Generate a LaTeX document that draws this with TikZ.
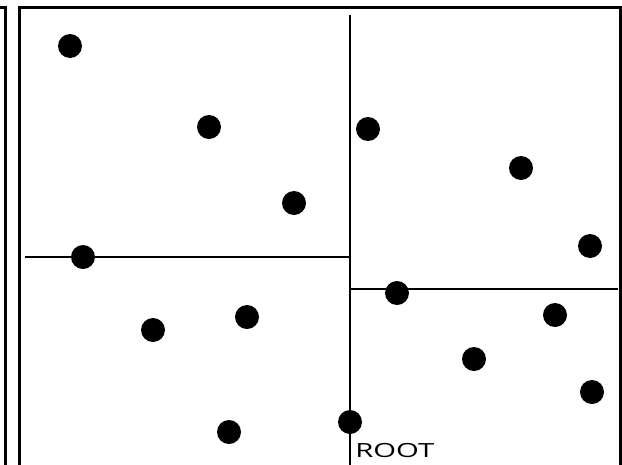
\documentclass[tikz,border=0pt]{standalone}
\usepackage{fontspec}
\setmainfont{Open Sans}
\begin{document}
\begin{tikzpicture}[x=1pt,y=-1pt,
  pt/.style={circle,fill=black,inner sep=0pt,minimum size=24pt},
  frame/.style={line width=3pt},
  split/.style={line width=2.4pt}]
\useasboundingbox (0,0) rectangle (622,464);
% left partial frame
\draw[frame] (-5,7) -- (5,7) -- (5,470);
% main frame
\draw[frame] (19,470) -- (19,7) -- (620,7) -- (620,470);
% split lines
\coordinate (vtop) at (350,15);
\coordinate (vbot) at (350,470);
\coordinate (lh1) at (25,257);
\coordinate (lh2) at (350,257);
\coordinate (rh1) at (350,289);
\coordinate (rh2) at (618,289);
\draw[split] (vtop) -- (vbot);
\draw[split] (lh1) -- (lh2);
\draw[split] (rh1) -- (rh2);
% points
\node[pt] (p1) at (70,46) {};
\node[pt] (p2) at (209,127) {};
\node[pt] (p3) at (294,203) {};
\node[pt] (p4) at (83,257) {};
\node[pt] (p5) at (153,330) {};
\node[pt] (p6) at (247,317) {};
\node[pt] (p7) at (229,432) {};
\node[pt] (root) at (350,422) {};
\node[pt] (p9) at (368,129) {};
\node[pt] (p10) at (521,168) {};
\node[pt] (p11) at (590,246) {};
\node[pt] (p12) at (397,293) {};
\node[pt] (p13) at (555,315) {};
\node[pt] (p14) at (474,359) {};
\node[pt] (p15) at (592,392) {};
\node[anchor=base west,inner sep=0pt,xscale=1.5,font=\fontsize{19.5}{20}\selectfont] (rootlabel) at (355,457) {ROOT};
\end{tikzpicture}
\end{document}
